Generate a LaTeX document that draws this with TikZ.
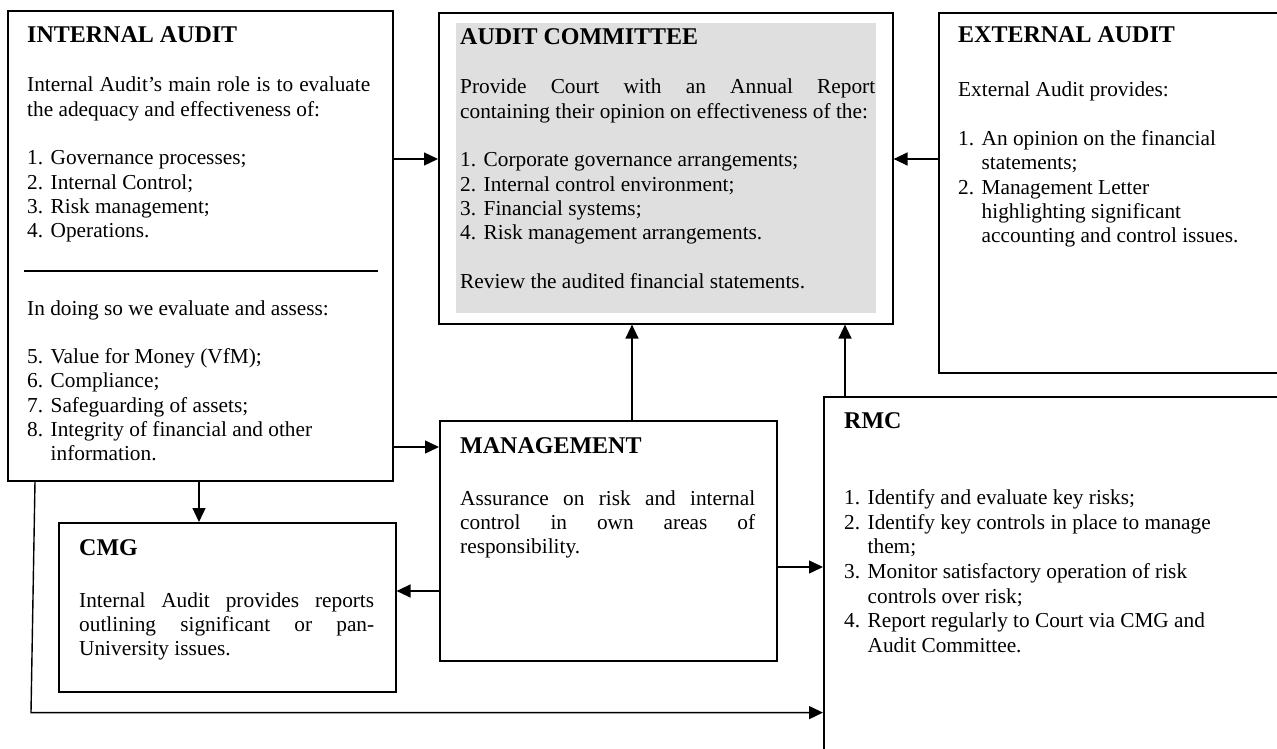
\documentclass[tikz,border=0pt]{standalone}
\usepackage{fontspec}
\setmainfont{Liberation Serif}
\usetikzlibrary{arrows.meta}
\usetikzlibrary{calc}
\usetikzlibrary{positioning}
\definecolor{acgray}{HTML}{DFDFDF}
\newcommand{\bodyfont}{\fontsize{21.3}{24.3}\selectfont\parskip=0pt\parindent=0pt}
\newcommand{\numitem}[2]{\par\noindent\hangindent=23.5pt\hangafter=1\makebox[23.5pt][l]{#1}#2\par}
\newcommand{\skipline}{\par\vspace{24.3pt}}

\begin{document}
\begin{tikzpicture}[x=1pt,y=-1pt,
  frame/.style={draw,line width=1.6pt,rectangle,inner sep=0,anchor=north west},
  head/.style={anchor=base west,inner sep=0,font=\fontsize{24}{27.6}\selectfont\bfseries},
  body/.style={anchor=base west,inner sep=0,text width=#1,align=justify},
  arr/.style={line width=1.4pt,-{Triangle[length=14pt,width=13pt]}}]
\clip (0,0) rectangle (1277,749);

\fill[acgray] (456,23) rectangle (876,313);

\node[frame,minimum width=385,minimum height=470] (ia) at (7,10) {};
\node[frame,minimum width=454,minimum height=311] (ac) at (438,12) {};
\node[frame,minimum width=360,minimum height=360] (ea) at (938,12) {};
\node[frame,minimum width=480,minimum height=400] (rmc) at (823,396) {};
\node[frame,minimum width=337,minimum height=240] (mg) at (439,420) {};
\node[frame,minimum width=337,minimum height=169] (cmg) at (58,522) {};

% internal audit
\node[head] (iahead) at (27,43) {INTERNAL AUDIT};
\node[body=343] (iatop) at (27,92) {\bodyfont
Internal Audit's main role is to evaluate\linebreak the adequacy and effectiveness of:
\skipline
\numitem{1.}{Governance processes;}
\numitem{2.}{Internal Control;}
\numitem{3.}{Risk management;}
\numitem{4.}{Operations.}};
\draw[line width=1.6pt] ($(ia.north west)+(17,261)$) coordinate (divl) -- ($(ia.north east)+(-16,261)$) coordinate (divr);
\node[body=350] (iabot) at (27,315) {\bodyfont
In doing so we evaluate and assess:
\skipline
\numitem{5.}{Value for Money (VfM);}
\numitem{6.}{Compliance;}
\numitem{7.}{Safeguarding of assets;}
\numitem{8.}{Integrity of financial and other\newline information.}};

% audit committee
\node[head] (achead) at (460,45) {AUDIT COMMITTEE};
\node[body=415] (acbody) at (460,94) {\bodyfont
Provide Court with an Annual Report\linebreak \mbox{containing their opinion on effectiveness of the:}
\skipline
\numitem{1.}{Corporate governance arrangements;}
\numitem{2.}{Internal control environment;}
\numitem{3.}{Financial systems;}
\numitem{4.}{Risk management arrangements.}
\skipline
Review the audited financial statements.\par};

% external audit
\node[head] (eahead) at (958,43) {EXTERNAL AUDIT};
\node[body=310] (eabody) at (958,97) {\bodyfont
External Audit provides:
\skipline
\numitem{1.}{An opinion on the financial\newline statements;}
\numitem{2.}{Management Letter\newline highlighting significant\newline accounting and control issues.}};

% management
\node[head] (mghead) at (460,453) {MANAGEMENT};
\node[body=295] (mgbody) at (460,505) {\bodyfont
Assurance on risk and internal\linebreak control in own areas of\linebreak responsibility.\par};

% cmg
\node[head] (cmghead) at (79,555) {CMG};
\node[body=295] (cmgbody) at (79,607) {\bodyfont
Internal Audit provides reports\linebreak outlining significant or pan-\linebreak University issues.\par};

% rmc
\node[head] (rmchead) at (844,428) {RMC};
\node[body=420] (rmcbody) at (844,480) {\fontsize{21.3}{24.6}\selectfont\parskip=0pt
\numitem{1.}{Identify and evaluate key risks;}
\numitem{2.}{Identify key controls in place to manage\newline them;}
\numitem{3.}{Monitor satisfactory operation of risk\newline controls over risk;}
\numitem{4.}{Report regularly to Court via CMG and\newline Audit Committee.}};

% connectors
\coordinate (p1) at ($(ia.north east)+(0,149)$);
\coordinate (p2) at ($(ea.north west)+(0,147)$);
\coordinate (p3) at ($(ia.north east)+(0,437)$);
\coordinate (p4) at ($(ia.south west)+(192,0)$);
\coordinate (p5) at ($(mg.north west)+(193,0)$);
\coordinate (p6) at ($(rmc.north west)+(22,0)$);
\coordinate (p7) at ($(mg.north west)+(0,171)$);
\coordinate (p8) at ($(mg.north east)+(0,147)$);
\coordinate (p9) at ($(ia.south west)+(28,0)$);
\coordinate (bend) at ($(cmg.south west)+(-27,20)$);
\draw[arr] (p1) -- (p1 -| ac.west);
\draw[arr] (p2) -- (p2 -| ac.east);
\draw[arr] (p3) -- (p3 -| mg.west);
\draw[arr] (p4) -- (p4 |- cmg.north);
\draw[arr] (p5) -- (p5 |- ac.south);
\draw[arr] (p6) -- (p6 |- ac.south);
\draw[arr] (p7) -- (p7 -| cmg.east);
\draw[arr] (p8) -- (p8 -| rmc.west);
\draw[arr] (p9) -- (bend) -- (bend -| rmc.west);
\end{tikzpicture}
\end{document}
